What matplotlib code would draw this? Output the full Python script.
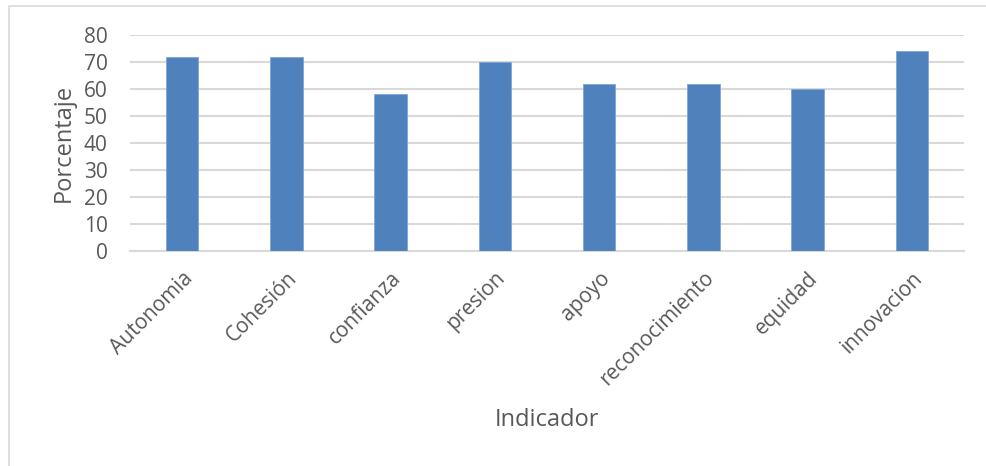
import matplotlib
matplotlib.use("Agg")
import matplotlib.pyplot as plt
from matplotlib.patches import Rectangle

# Datos del grafico
indicadores = ['Autonomia', 'Cohesión', 'confianza', 'presion', 'apoyo',
               'reconocimiento', 'equidad', 'innovacion']
porcentajes = [72, 72, 58, 70, 62, 62, 60, 74]
yticks = [0, 10, 20, 30, 40, 50, 60, 70, 80]

plt.rcParams['font.family'] = ['Open Sans', 'DejaVu Sans']
textColor = '#595959'

fig = plt.figure(figsize=(9.86, 4.66), dpi=100)
ax = fig.add_axes([0.1318, 0.4614, 0.8459, 0.4635])

# Marco gris claro alrededor del grafico
fig.patches.append(Rectangle((9 / 986, -0.01), 1.0, 1 - 6 / 466 + 0.01,
                             transform=fig.transFigure, fill=False,
                             edgecolor='#D9D9D9', linewidth=1.2))

ax.bar(range(len(indicadores)), porcentajes, width=0.31, color='#4F81BD',
       edgecolor='#7FA6D6', linewidth=0.6, zorder=3)

ax.set_xlim(-0.5, len(indicadores) - 0.5)
ax.set_ylim(0, 80)
ax.set_yticks(yticks)
ax.yaxis.grid(True, color='#D9D9D9', linewidth=1.5, zorder=0)
ax.set_axisbelow(True)

for side in ['top', 'right', 'left']:
    ax.spines[side].set_visible(False)
ax.spines['bottom'].set_color('#D9D9D9')
ax.spines['bottom'].set_linewidth(1.5)

ax.set_xticks(range(len(indicadores)))
ax.set_xticklabels(indicadores, rotation=45, ha='right', rotation_mode='anchor')
ax.tick_params(axis='both', length=0, labelsize=15, labelcolor=textColor)
ax.tick_params(axis='x', pad=12)
ax.tick_params(axis='y', pad=16)

ax.set_ylabel('Porcentaje', fontsize=17, color=textColor, labelpad=6)
ax.set_xlabel('Indicador', fontsize=17, color=textColor, labelpad=13)

fig.savefig('out.png', dpi=100)
